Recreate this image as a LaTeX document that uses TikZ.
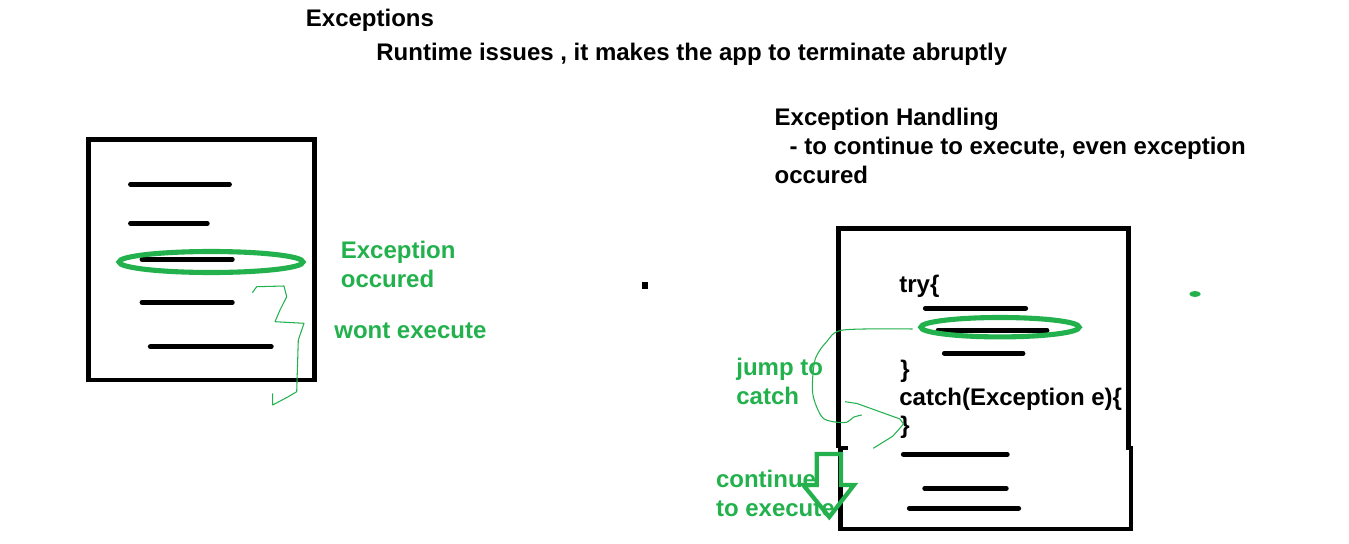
\documentclass[tikz,border=0pt]{standalone}
\usepackage{fontspec}
\setmainfont{Liberation Sans}
\definecolor{paintgreen}{RGB}{34,177,76}
\begin{document}
\begin{tikzpicture}[x=0.02cm, y=-0.02cm,
    txt/.style={inner sep=0pt, font=\fontsize{13.66pt}{16.44pt}\selectfont\bfseries},
    greentxt/.style={txt, text=paintgreen, align=left},
    codeline/.style={line width=2.75pt, line cap=round},
    boxedge/.style={line width=2.8pt},
    ring/.style={draw=paintgreen, line width=2.9pt},
    scribble/.style={draw=paintgreen, line width=0.6pt, line join=round}]
    \useasboundingbox (0,0) rectangle (1349,544);

    % heading
    \node[txt, anchor=base west] (title) at (305.6,27) {Exceptions};
    \node[txt, anchor=base west] (runtime) at (376,61) {Runtime issues , it makes the app to terminate abruptly};

    % program without handling
    \draw[boxedge] (88.5,139.7) rectangle (314.3,380);
    \foreach \xa/\xb/\y in {130.5/229.5/184.3, 130.5/207.3/223.3, 142/232.3/259.3, 142/232.3/302.3, 150.3/271.3/346.7}
        \draw[codeline] (\xa,\y) -- (\xb,\y);
    \draw[ring] (211,262) ellipse [x radius=92, y radius=10.5];
    \draw[scribble] (252.3,292.7) -- (256.7,286.7) -- (284,286) -- (286.7,296.7) -- (280,310) -- (275,321.7)
        -- (304,323.3) -- (298.3,340) -- (296.7,391.7) -- (288.3,396.7) -- (272.7,405) -- (272.7,393.3);
    \node[greentxt, anchor=north west] (occured) at (340.5,240.8) {Exception\\occured};
    \node[txt, text=paintgreen, anchor=base west] (wont) at (334,338) {wont execute};

    \fill (642,281.7) rectangle (648,289);

    % exception handling
    \node[txt, align=left, anchor=north west] (handling) at (774.3,107.8)
        {Exception Handling\\\hspace{0.3cm}- to continue to execute, even exception\\occured};

    \draw[boxedge] (838.8,448) -- (838.8,228.3) -- (1128.7,228.3) -- (1128.7,448);
    \draw[boxedge] (847.5,448) -- (840.5,448) -- (840.5,529) -- (1131,529) -- (1131,448) -- (1126,448);

    \node[txt, anchor=base west] (try) at (899,292) {try\{};
    \node[txt, anchor=base west] (tryend) at (900,377) {\}};
    \node[txt, anchor=base west] (catch) at (899,405) {catch(Exception e)\{};
    \node[txt, anchor=base west] (catchend) at (900,433) {\}};

    \foreach \xa/\xb/\y in {925.3/1025.7/308.3, 938/1047/330.3, 944.3/1023/353.3, 903.3/1007.3/454.3, 924.7/1006.3/488.3, 909.3/1018.7/508.3}
        \draw[codeline] (\xa,\y) -- (\xb,\y);
    \draw[ring] (1000,327.2) ellipse [x radius=79.2, y radius=9.7];

    % jump to catch
    \draw[scribble] plot[smooth] coordinates {(912.7,329) (843.3,330) (826.7,341.7) (815,360) (812.7,393.3)
        (821.7,416.7) (833.3,421.7) (846.7,422.3) (853.3,417.3) (861.7,415)};
    \draw[scribble] (845,401.7) -- (857,403.5) -- (900,419) -- (903.5,424) -- (893,436) -- (873.3,448.3);
    \node[greentxt, anchor=north west] (jump) at (736,357.8) {jump to\\catch};

    % continue
    \node[greentxt, anchor=north west] (continue) at (715.7,469.8) {continue\\to execute};
    \draw[paintgreen, line width=2.4pt] (816.7,454) -- (841,454) -- (841,485) -- (854,485) -- (829.3,517)
        -- (803.3,485) -- (816.7,485) -- cycle;

    \fill[paintgreen] (1195,294) ellipse [x radius=5.7, y radius=3];
\end{tikzpicture}
\end{document}
